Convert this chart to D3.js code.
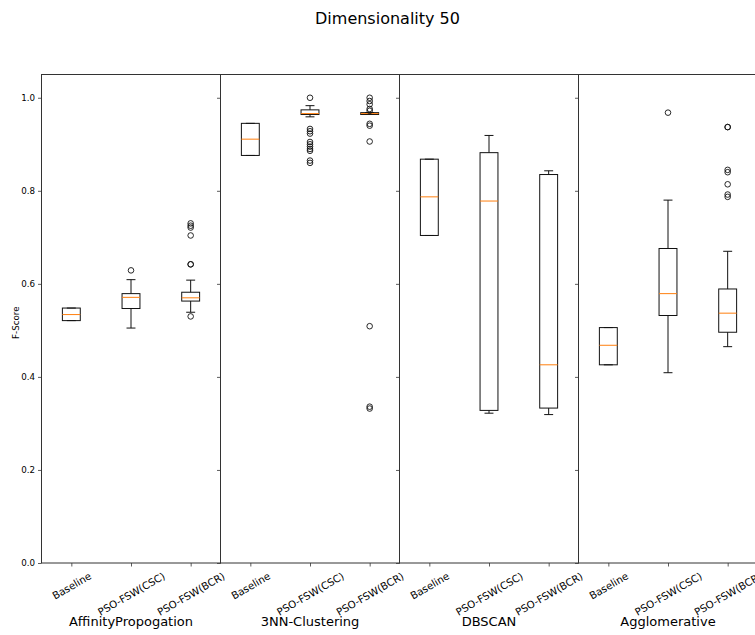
<!DOCTYPE html>
<html>
<head>
<meta charset="utf-8">
<script src="https://cdn.jsdelivr.net/npm/d3@7"></script>
<style>
  html, body { margin: 0; padding: 0; background: #fff; }
  svg { display: block; font-family: "DejaVu Sans", sans-serif; }
</style>
</head>
<body>
<svg id="chart" width="755" height="635"></svg>
<script>
// Clustering algorithms (one panel each) and the compared methods (one box each)
const algorithms = ["AffinityPropogation", "3NN-Clustering", "DBSCAN", "Agglomerative"];
const methods = ["Baseline", "PSO-FSW(CSC)", "PSO-FSW(BCR)"];
const yTicks = [0.0, 0.2, 0.4, 0.6, 0.8, 1.0];

// Box statistics, indexed [algorithm][method]
const lowerWhisker = [
  [0.521, 0.505, 0.539],
  [0.876, 0.959, 0.964],
  [0.704, 0.322, 0.319],
  [0.426, 0.409, 0.465]
];
const firstQuartile = [
  [0.521, 0.547, 0.563],
  [0.876, 0.964, 0.964],
  [0.704, 0.328, 0.333],
  [0.426, 0.532, 0.496]
];
const medians = [
  [0.534, 0.571, 0.570],
  [0.911, 0.966, 0.966],
  [0.787, 0.778, 0.426],
  [0.468, 0.579, 0.537]
];
const thirdQuartile = [
  [0.548, 0.579, 0.582],
  [0.945, 0.974, 0.968],
  [0.868, 0.882, 0.835],
  [0.506, 0.676, 0.589]
];
const upperWhisker = [
  [0.548, 0.609, 0.608],
  [0.945, 0.983, 0.968],
  [0.868, 0.919, 0.843],
  [0.506, 0.780, 0.670]
];
const outliers = [
  [[], [0.629], [0.530, 0.642, 0.642, 0.704, 0.721, 0.725, 0.730]],
  [[], [1.000, 0.933, 0.928, 0.923, 0.905, 0.900, 0.895, 0.890, 0.886, 0.865, 0.860],
       [1.000, 0.993, 0.986, 0.976, 0.972, 0.944, 0.940, 0.906, 0.509, 0.336, 0.332]],
  [[], [], []],
  [[], [0.968], [0.937, 0.937, 0.845, 0.840, 0.814, 0.792, 0.787]]
];

const svg = d3.select("#chart");
const plotLeft = 41.5, plotTop = 74.5, plotBottom = 563, panelW = 179;
const yTickFont = 8.7, xTickFont = 10.2;

const y = d3.scaleLinear().domain([0, 1.05]).range([plotBottom, plotTop]);

svg.append("text")
  .attr("x", 387.5).attr("y", 24)
  .attr("text-anchor", "middle")
  .style("font-size", "16px")
  .attr("fill", "#000")
  .text("Dimensionality 50");

svg.append("text")
  .attr("transform", `translate(19,${(plotTop + plotBottom) / 2 + 4}) rotate(-90)`)
  .attr("text-anchor", "middle")
  .style("font-size", yTickFont + "px")
  .attr("fill", "#000")
  .text("F-Score");

algorithms.forEach((alg, a) => {
  const x0 = plotLeft + a * panelW;
  const g = svg.append("g").attr("transform", `translate(${x0},0)`);
  const x = d3.scalePoint().domain(methods).range([0, panelW]).padding(0.5);
  const boxW = x.step() * 0.3;
  const capW = boxW / 2;

  // y axis (labels only on the first panel)
  const yAxis = d3.axisLeft(y).tickValues(yTicks).tickSize(3.5).tickPadding(3)
    .tickFormat(a === 0 ? d3.format(".1f") : () => "");
  const ya = g.append("g").call(yAxis);
  ya.select(".domain").remove();
  ya.selectAll("line").attr("stroke", "#333").attr("stroke-width", 0.8);
  ya.selectAll("text").style("font-size", yTickFont + "px").attr("fill", "#000")
    .style("font-family", "DejaVu Sans, sans-serif");

  // x axis with rotated method labels
  const xAxis = d3.axisBottom(x).tickSize(3.5).tickPadding(3);
  const xa = g.append("g").attr("transform", `translate(0,${plotBottom})`).call(xAxis);
  xa.select(".domain").remove();
  xa.selectAll("line").attr("stroke", "#333").attr("stroke-width", 0.8);
  xa.selectAll("text")
    .style("font-size", xTickFont + "px")
    .style("font-family", "DejaVu Sans, sans-serif")
    .attr("fill", "#000")
    .attr("dy", null)
    .attr("y", null)
    .attr("dominant-baseline", "central")
    .attr("text-anchor", "middle")
    .each(function (d) {
      const w = this.getComputedTextLength();
      const h = xTickFont * 1.16;
      const bh = w * 0.5 + h * Math.cos(Math.PI / 6);
      d3.select(this).attr("transform", `translate(0,${7 + bh / 2}) rotate(-30)`);
    });

  // panel frame
  g.append("rect")
    .attr("x", 0).attr("y", plotTop)
    .attr("width", panelW).attr("height", plotBottom - plotTop)
    .attr("fill", "none").attr("stroke", "#333").attr("stroke-width", 1);

  // algorithm name
  g.append("text")
    .attr("x", panelW / 2).attr("y", 626)
    .attr("text-anchor", "middle")
    .style("font-size", "13px")
    .attr("fill", "#000")
    .text(alg);

  methods.forEach((m, i) => {
    const cx = x(m);
    const bg = g.append("g");
    const line = (x1, y1, x2, y2, color) => bg.append("line")
      .attr("x1", x1).attr("y1", y1).attr("x2", x2).attr("y2", y2)
      .attr("stroke", color || "#111").attr("stroke-width", 1);

    // whiskers and caps
    line(cx, y(thirdQuartile[a][i]), cx, y(upperWhisker[a][i]));
    line(cx, y(firstQuartile[a][i]), cx, y(lowerWhisker[a][i]));
    line(cx - capW / 2, y(upperWhisker[a][i]), cx + capW / 2, y(upperWhisker[a][i]));
    line(cx - capW / 2, y(lowerWhisker[a][i]), cx + capW / 2, y(lowerWhisker[a][i]));

    // box
    bg.append("rect")
      .attr("x", cx - boxW / 2)
      .attr("y", y(thirdQuartile[a][i]))
      .attr("width", boxW)
      .attr("height", Math.max(0, y(firstQuartile[a][i]) - y(thirdQuartile[a][i])))
      .attr("fill", "none").attr("stroke", "#111").attr("stroke-width", 1);

    // median
    line(cx - boxW / 2, y(medians[a][i]), cx + boxW / 2, y(medians[a][i]), "#ff7f0e");

    // fliers
    bg.selectAll("circle.flier").data(outliers[a][i]).enter()
      .append("circle").attr("class", "flier")
      .attr("cx", cx).attr("cy", d => y(d)).attr("r", 2.8)
      .attr("fill", "none").attr("stroke", "#111").attr("stroke-width", 0.9);
  });
});
</script>
</body>
</html>
